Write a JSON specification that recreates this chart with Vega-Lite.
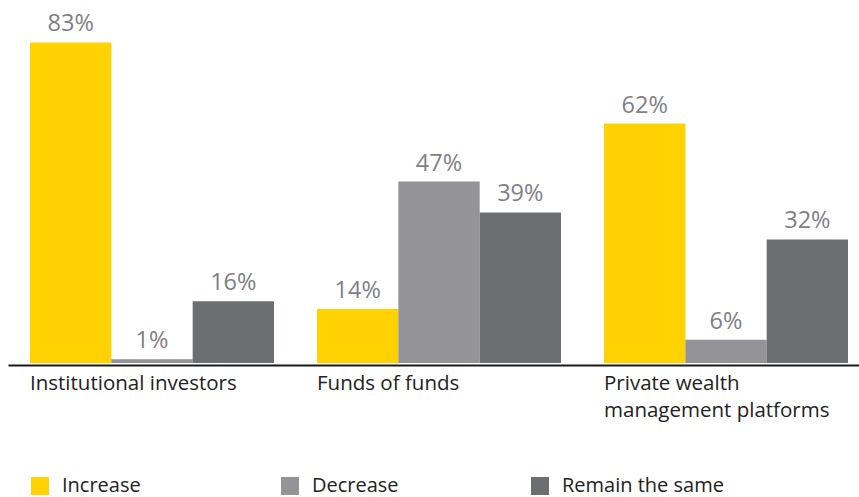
{
  "$schema": "https://vega.github.io/schema/vega-lite/v6.json",
  "autosize": "none",
  "width": 851,
  "height": 363,
  "padding": {"left": 8, "top": 0, "right": 0, "bottom": 134},
  "config": {"view": {"stroke": null}, "font": "Open Sans"},
  "data": {
    "values": [
      {"group": "Institutional investors", "series": "Increase", "value": 83},
      {"group": "Institutional investors", "series": "Decrease", "value": 1},
      {"group": "Institutional investors", "series": "Remain the same", "value": 16},
      {"group": "Funds of funds", "series": "Increase", "value": 14},
      {"group": "Funds of funds", "series": "Decrease", "value": 47},
      {"group": "Funds of funds", "series": "Remain the same", "value": 39},
      {"group": "Private wealth management platforms", "series": "Increase", "value": 62},
      {"group": "Private wealth management platforms", "series": "Decrease", "value": 6},
      {"group": "Private wealth management platforms", "series": "Remain the same", "value": 32}
    ]
  },
  "encoding": {
    "x": {
      "field": "group", "type": "nominal", "sort": null, "title": null,
      "scale": {"paddingInner": 0.15, "paddingOuter": 0.0575, "align": 0.667},
      "axis": {
        "domain": true, "domainColor": "#1a1a1a", "domainWidth": 2, "offset": 2,
        "ticks": false, "labelAngle": 0, "labelAlign": "left", "labelOffset": -122,
        "labelBaseline": "top", "labelPadding": 8, "labelFontSize": 20.5, "labelColor": "#222222",
        "labelLineHeight": 27, "labelLimit": 300,
        "labelExpr": "datum.label == 'Private wealth management platforms' ? ['Private wealth', 'management platforms'] : datum.label"
      }
    },
    "xOffset": {"field": "series", "type": "nominal", "sort": ["Increase", "Decrease", "Remain the same"], "scale": {"paddingInner": 0, "paddingOuter": 0}},
    "y": {"field": "value", "type": "quantitative", "scale": {"domain": [0, 94]}, "axis": null}
  },
  "layer": [
    {
      "mark": {"type": "bar"},
      "encoding": {
        "color": {
          "field": "series", "type": "nominal", "sort": ["Increase", "Decrease", "Remain the same"], "title": null,
          "scale": {"domain": ["Increase", "Decrease", "Remain the same"], "range": ["#FFD200", "#939398", "#6D6E71"]},
          "legend": {
            "orient": "none", "legendX": 22, "legendY": 476, "direction": "horizontal", "columns": 3,
            "gridAlign": "all", "columnPadding": 56, "symbolType": "square", "symbolSize": 324,
            "symbolStrokeWidth": 0, "labelFontSize": 20, "labelColor": "#222222", "labelOffset": 12, "labelLimit": 300
          }
        }
      }
    },
    {
      "transform": [{"calculate": "datum.value + '%'", "as": "label"}],
      "mark": {"type": "text", "baseline": "alphabetic", "dy": -11, "fontSize": 23.5, "color": "#7f7f85"},
      "encoding": {"text": {"field": "label", "type": "nominal"}}
    }
  ]
}
